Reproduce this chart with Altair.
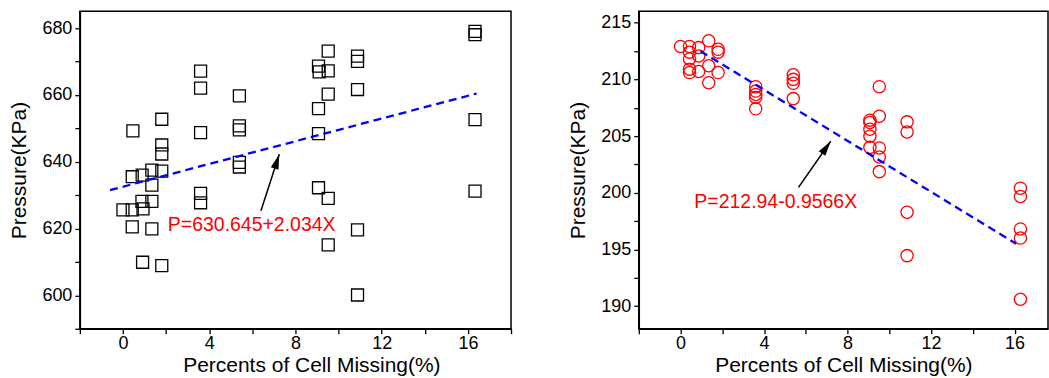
import altair as alt
import pandas as pd

FONT = "Liberation Sans"

# ---------------- left panel data (black squares) ----------------
left_x = [0, 0.43, 0.46, 0.43, 0.43, 0.89, 0.88, 0.93, 0.91, 1.34, 1.34, 1.34, 1.34,
          1.8, 1.8, 1.8, 1.8, 1.8, 3.6, 3.6, 3.6, 3.6, 3.6, 5.4, 5.4, 5.4, 5.4, 5.4,
          9.52, 9.07, 9.1, 9.52, 9.52, 9.07, 9.07, 9.07, 9.52, 9.52,
          10.88, 10.88, 10.88, 10.88, 10.88, 16.33, 16.33, 16.33, 16.33]
left_y = [625.6, 625.6, 649.2, 635.5, 620.5, 636.0, 628.1, 625.9, 609.9, 637.5, 633.0, 628.1, 619.9,
          652.7, 645.0, 642.3, 637.2, 608.9, 667.1, 662.0, 648.7, 630.5, 627.7, 659.7, 650.7, 649.5, 639.8, 638.4,
          673.1, 668.6, 666.9, 667.2, 660.2, 655.9, 648.4, 632.2, 629.0, 615.1,
          671.6, 670.0, 661.6, 619.6, 600.1, 679.0, 678.0, 652.6, 631.2]
left_fit_x = [-0.6, 16.4]
left_fit_y = [631.5, 660.4]
left_label = "P=630.645+2.034X"
left_label_pos = [5.97, 619.3]
left_arrow_from = [6.40, 625.3]
left_arrow_to = [7.25, 642.2]

# ---------------- right panel data (red circles) ----------------
right_x = [0, 0.43, 0.43, 0.43, 0.43, 0.43, 0.87, 0.87, 0.87, 1.35, 1.35, 1.35, 1.8, 1.8, 1.8,
           3.6, 3.6, 3.6, 3.6, 3.6, 5.4, 5.4, 5.4, 5.4,
           9.07, 9.07, 9.07, 9.07, 9.07, 9.52, 9.52, 9.52, 9.52, 9.52,
           10.85, 10.85, 10.85, 10.85, 16.28, 16.28, 16.28, 16.28, 16.28]
right_y = [212.9, 212.9, 212.4, 211.8, 210.9, 210.6, 212.8, 212.06, 210.7, 213.4, 211.2, 209.7, 212.65, 212.4, 210.6,
           209.35, 208.97, 208.67, 208.4, 207.4, 210.4, 210.0, 209.65, 208.3,
           206.4, 206.2, 205.6, 204.98, 204.0, 209.35, 206.75, 203.95, 203.15, 201.86,
           206.25, 205.36, 198.28, 194.45, 200.4, 199.67, 196.8, 196.0, 190.6]
right_fit_x = [0.95, 16.07]
right_fit_y = [212.5, 195.5]
right_label = "P=212.94-0.9566X"
right_label_pos = [4.56, 198.64]
right_arrow_from = [5.65, 200.47]
right_arrow_to = [7.19, 204.54]

x_ticks_left = [-2, 0, 2, 4, 6, 8, 10, 12, 14, 16, 18]
x_ticks_right = [-2, 0, 2, 4, 6, 8, 10, 12, 14, 16]
y_ticks_left = [590, 600, 610, 620, 630, 640, 650, 660, 670, 680]
y_ticks_right = [190, 192.5, 195, 197.5, 200, 202.5, 205, 207.5, 210, 212.5, 215]

HEAD = "M0,0 L0.27,1 L-0.27,1 Z"


def panel(px, py, shape, color, size, fx, fy, label, lpos, afrom, ato, head_angle,
          xdom, ydom, xticks, yticks, ymod, w, h, x_title_x=None):
    pts = pd.DataFrame({"x": px, "y": py})
    fit = pd.DataFrame({"x": fx, "y": fy})
    txt = pd.DataFrame({"x": [lpos[0]], "y": [lpos[1]], "t": [label]})
    arr = pd.DataFrame({"x": [afrom[0]], "y": [afrom[1]], "x2": [ato[0]], "y2": [ato[1]]})

    xs = alt.Scale(domain=xdom, nice=False, zero=False)
    ys = alt.Scale(domain=ydom, nice=False, zero=False)
    xax_kw = dict(values=xticks, tickCount=40, format="d",
                  labelExpr="datum.value % 4 === 0 ? datum.label : ''",
                  title="Percents of Cell Missing(%)", grid=False, labelOverlap=False)
    if x_title_x is not None:
        xax_kw["titleX"] = x_title_x
    xax = alt.Axis(**xax_kw)
    yax = alt.Axis(values=yticks, tickCount=40, format="d",
                   labelExpr=f"datum.value % {ymod} === 0 ? datum.label : ''",
                   title="Pressure(KPa)", grid=False, labelOverlap=False)

    base_x = alt.X("x:Q", scale=xs, axis=xax)
    base_y = alt.Y("y:Q", scale=ys, axis=yax)

    points = alt.Chart(pts).mark_point(shape=shape, filled=False, size=size, color=color,
                                       strokeWidth=1.3, opacity=1).encode(x=base_x, y=base_y)
    line = alt.Chart(fit).mark_line(color="#0000FF", strokeWidth=2.3, strokeDash=[8, 5]).encode(
        x=alt.X("x:Q", scale=xs), y=alt.Y("y:Q", scale=ys))
    text = alt.Chart(txt).mark_text(color="#FF0000", fontSize=19.5, font=FONT,
                                    align="center", baseline="alphabetic").encode(
        x=alt.X("x:Q", scale=xs), y=alt.Y("y:Q", scale=ys), text="t:N")
    shaft = alt.Chart(arr).mark_rule(color="black", strokeWidth=1.5).encode(
        x=alt.X("x:Q", scale=xs), y=alt.Y("y:Q", scale=ys), x2="x2:Q", y2="y2:Q")
    head = alt.Chart(arr).mark_point(shape=HEAD, filled=True, size=900, angle=head_angle,
                                     color="black", opacity=1).encode(
        x=alt.X("x2:Q", scale=xs), y=alt.Y("y2:Q", scale=ys))
    return alt.layer(points, line, shaft, head, text).properties(width=w, height=h)


left = panel(left_x, left_y, "square", "black", 144, left_fit_x, left_fit_y, left_label,
             left_label_pos, left_arrow_from, left_arrow_to, 18,
             [-2, 18], [590, 685], x_ticks_left, y_ticks_left, 20, 432, 318, x_title_x=232)
right = panel(right_x, right_y, "circle", "#FF0000", 150, right_fit_x, right_fit_y, right_label,
              right_label_pos, right_arrow_from, right_arrow_to, 35,
              [-2, 17.6], [188, 216], x_ticks_right, y_ticks_right, 5, 410, 318)

chart = alt.hconcat(left, right, spacing=54).properties(
    padding={"left": 8, "top": 10, "right": 0, "bottom": 0},
    background="white",
).configure_view(
    stroke="black", strokeWidth=1.5
).configure_axis(
    domainColor="black", domainWidth=1.5, tickColor="black", tickWidth=1.3, tickSize=5,
    labelFont=FONT, labelFontSize=18, labelColor="black",
    titleFont=FONT, titleFontSize=21, titleFontWeight="normal", titleColor="black",
).configure_axisX(
    labelPadding=1, titlePadding=2
).configure_axisY(
    labelPadding=3, titlePadding=12
)

chart.save("out.html", embed_options={"renderer": "svg", "actions": False})
